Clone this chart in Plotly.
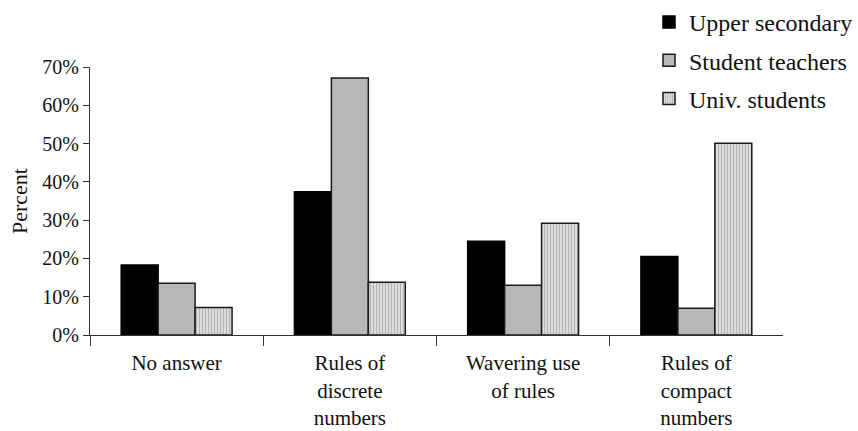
import plotly.graph_objects as go

categories = ["No answer", "Rules of<br>discrete<br>numbers", "Wavering use<br>of rules", "Rules of<br>compact<br>numbers"]
upper_secondary = [0.183, 0.374, 0.245, 0.205]
student_teachers = [0.135, 0.671, 0.130, 0.070]
univ_students = [0.072, 0.138, 0.292, 0.501]
series_names = ["Upper secondary", "Student teachers", "Univ. students"]
y_ticks = [0, 0.1, 0.2, 0.3, 0.4, 0.5, 0.6, 0.7]
y_ticklabels = ["0%", "10%", "20%", "30%", "40%", "50%", "60%", "70%"]

FONT = "Liberation Serif, Times New Roman, serif"

fig = go.Figure()
fig.add_trace(go.Bar(x=categories, y=upper_secondary, name=series_names[0], legendgroup="a",
                     marker=dict(color="#000000", line=dict(color="#000000", width=1.5))))
fig.add_trace(go.Bar(x=categories, y=student_teachers, name=series_names[1], legendgroup="b",
                     marker=dict(color="#b8b8b8", line=dict(color="#1a1a1a", width=1.5))))
fig.add_trace(go.Bar(x=categories, y=univ_students, name=series_names[2], legendgroup="c",
                     marker=dict(color="#dcdcdc", line=dict(color="#1a1a1a", width=1.5),
                                 pattern=dict(shape="|", fgcolor="#8a8a8a", bgcolor="#dcdcdc",
                                              size=3, solidity=0.35))))

fig.update_layout(
    width=858, height=431,
    margin=dict(l=90, r=0, t=0, b=96),
    paper_bgcolor="white", plot_bgcolor="white",
    font=dict(family=FONT, size=22, color="#111"),
    barmode="group", bargap=0.36, bargroupgap=0,
    showlegend=True,
    legend=dict(x=1.0, xanchor="right", y=1.0, yanchor="top",
                font=dict(family=FONT, size=24, color="#111"),
                tracegroupgap=4, bgcolor="rgba(0,0,0,0)", itemwidth=30),
    xaxis=dict(domain=[0, 0.9023], showline=True, linecolor="#333", linewidth=1.2, ticks="outside",
               tickson="boundaries", ticklen=10, tickcolor="#333", automargin=False,
               ticklabelstandoff=9,
               tickfont=dict(family=FONT, size=21, color="#111"), showgrid=False),
    yaxis=dict(domain=[0, 0.8], range=[0, 0.7], showline=True, linecolor="#333", linewidth=1.2,
               ticks="outside", ticklen=6, tickcolor="#333", tickvals=y_ticks,
               ticktext=y_ticklabels, showgrid=False, zeroline=False, automargin=False,
               tickfont=dict(family=FONT, size=20, color="#111"),
               title=dict(text="Percent", font=dict(family=FONT, size=22, color="#111"), standoff=8)),
)

fig.write_html("out.html", config={"displayModeBar": False},
               post_script="document.body.style.margin='0px';")
